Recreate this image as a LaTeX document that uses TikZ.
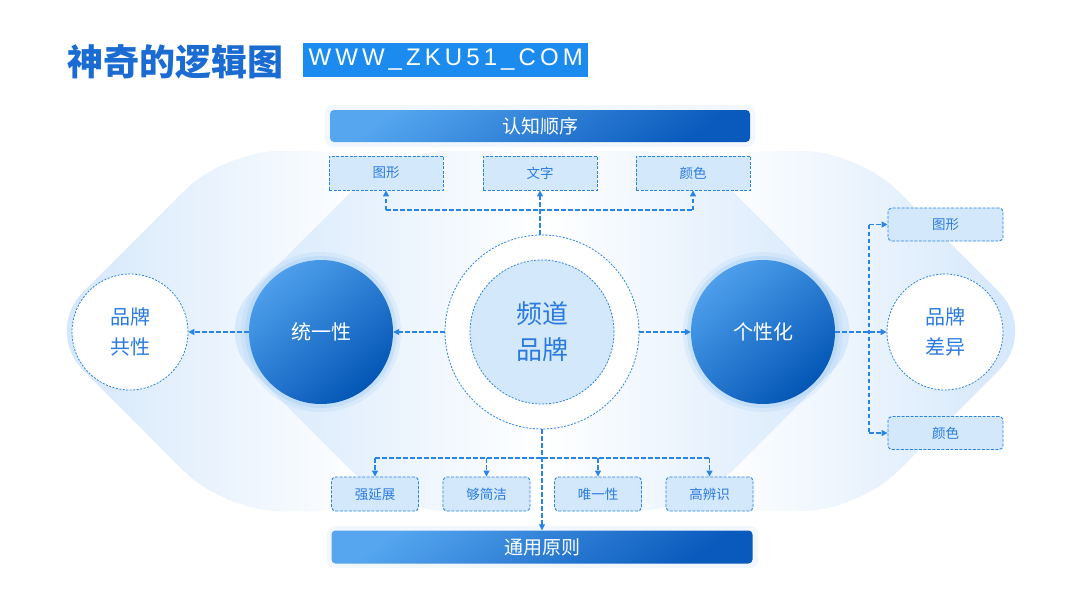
\documentclass[tikz,border=0pt]{standalone}
\usepackage{fontspec}
\setmainfont{Noto Sans CJK SC}
\newfontfamily\latinsans{Liberation Sans}[LetterSpace=17]
\usetikzlibrary{arrows.meta,calc}
\definecolor{lineblue}{HTML}{2A84E6}
\definecolor{boxfill}{HTML}{D4E8FC}
\definecolor{boxtext}{HTML}{2A7BE0}
\definecolor{barlight}{HTML}{55A6EF}
\definecolor{bardark}{HTML}{0A5ABD}
\definecolor{circlight}{HTML}{4D9FEC}
\definecolor{circdark}{HTML}{0456B6}
\definecolor{bgblue}{HTML}{D2E6FB}
\definecolor{glowblue}{HTML}{8CC2F5}
\definecolor{titleblue}{HTML}{1A6CD2}
\definecolor{wwwblue}{HTML}{1B8BF0}
\tikzset{
  conn/.style={draw=lineblue, line width=1.2pt, dash pattern=on 4.5pt off 2.5pt},
  arr/.style={conn, -{Triangle[length=6pt,width=6pt]}},
  bar/.style={rounded corners=4pt, minimum width=420pt, minimum height=32pt,
    top color=barlight, bottom color=bardark, shading angle=35, text=white,
    font=\fontsize{19}{19}\selectfont, inner sep=0pt},
  sbox/.style={fill=boxfill, draw=lineblue, line width=0.9pt, dash pattern=on 3pt off 1.5pt,
    text=boxtext, font=\fontsize{13.5}{14}\selectfont, inner sep=0pt, minimum height=34pt},
  rbox/.style={sbox, rounded corners=4pt},
  bigcirc/.style={circle, minimum size=144pt, inner sep=0pt, top color=circlight,
    bottom color=circdark, shading angle=40, text=white, font=\fontsize{20}{20}\selectfont},
  wcirc/.style={circle, minimum size=116pt, inner sep=0pt, fill=white, draw=lineblue,
    line width=0.8pt, dash pattern=on 2pt off 1.5pt, text=boxtext,
    font=\fontsize{20}{30}\selectfont, align=center},
  bgshape/.style={rounded corners=55pt},
}
\begin{document}
\begin{tikzpicture}[x=1pt,y=-1pt]
\useasboundingbox (0,0) rectangle (1080,608);
\fill[white] (0,0) rectangle (1080,608);
% background hexagons
\shade[bgshape, left color=bgblue, right color=white]
  (44,331) -- (224,151) -- (370,151) -- (370,511) -- (224,511) -- cycle;
\shade[bgshape, left color=white, right color=bgblue]
  (1038,331) -- (858,151) -- (712,151) -- (712,511) -- (858,511) -- cycle;
\shade[bgshape, left color=bgblue, right color=bgblue, middle color=white]
  (212,331) -- (392,151) -- (692,151) -- (872,331) -- (692,511) -- (392,511) -- cycle;
% glows
\foreach \cx in {321,763}{
  \fill[glowblue, opacity=0.15] (\cx,332) circle (80pt);
  \fill[glowblue, opacity=0.25] (\cx,332) circle (76pt);
}
\fill[glowblue, opacity=0.12, rounded corners=8pt] (325,105) rectangle (755,147);
\fill[glowblue, opacity=0.12, rounded corners=8pt] (327,526) rectangle (758,568);
% title
\node[anchor=west, text=titleblue, font=\fontsize{36}{36}\selectfont\bfseries, inner sep=0pt] (title) at (67,62) {神奇的逻辑图};
\node[anchor=west, fill=wwwblue, minimum width=285pt, minimum height=34pt, inner sep=0pt,
  text=white, font=\latinsans\fontsize{24}{24}\selectfont] (www) at (303,60) {WWW\_ZKU51\_COM};
% bars
\node[bar] (top) at (540,126) {认知顺序};
\node[bar, minimum width=421pt, minimum height=33pt] (bot) at (542,547) {通用原则};
% top boxes
\node[sbox, minimum width=114pt] (t1) at (386,173) {图形};
\node[sbox, minimum width=114pt] (t2) at (540,173) {文字};
\node[sbox, minimum width=114pt] (t3) at (693,173) {颜色};
% bottom boxes
\node[rbox, minimum width=87pt] (b1) at (375,494) {强延展};
\node[rbox, minimum width=87pt] (b2) at (486.5,494) {够简洁};
\node[rbox, minimum width=87pt] (b3) at (598,494) {唯一性};
\node[rbox, minimum width=87pt] (b4) at (709.5,494) {高辨识};
% right boxes
\node[rbox, minimum width=115pt, minimum height=33pt] (r1) at (945.5,224.5) {图形};
\node[rbox, minimum width=115pt, minimum height=33pt] (r2) at (945.5,433) {颜色};
% center circle
\node[circle, minimum size=194pt, inner sep=0pt, fill=white, draw=lineblue, line width=0.8pt,
  dash pattern=on 2pt off 1.5pt] (co) at (542,332) {};
\node[circle, minimum size=144pt, inner sep=0pt, fill=boxfill, draw=lineblue, line width=0.8pt,
  dash pattern=on 2pt off 1.5pt, text=boxtext, align=center,
  font=\fontsize{26}{36}\selectfont] (ci) at (542,332) {频道\\品牌};
% blue circles
\node[bigcirc] (lc) at (321,332) {统一性};
\node[bigcirc] (rc) at (763,332) {个性化};
% white circles
\node[wcirc] (lw) at (130,332) {品牌\\共性};
\node[wcirc] (rw) at (945,332) {品牌\\差异};
% connectors top
\coordinate (hT) at (0,210);
\draw[conn] (t1.south |- hT) -- (t3.south |- hT);
\draw[arr] (t1.south |- hT) -- (t1.south);
\draw[arr] (t3.south |- hT) -- (t3.south);
\draw[arr] (co.north -| t2.south) -- (t2.south);
% connectors bottom
\coordinate (hB) at (0,458);
\draw[conn] (b1.north |- hB) -- (b4.north |- hB);
\foreach \b in {b1,b2,b3,b4}{\draw[arr] (\b.north |- hB) -- (\b.north);}
\draw[arr] (co.south) -- (bot.north);
% left/right
\draw[arr] (co.west) -- (lc.east);
\draw[arr] (lc.west) -- (lw.east);
\draw[arr] (co.east) -- (rc.west);
\draw[arr] (rc.east) -- (rw.west);
\coordinate (vR) at (869,0);
\draw[conn] (r1.west -| vR) -- (r2.west -| vR);
\draw[arr] (r1.west -| vR) -- (r1.west);
\draw[arr] (r2.west -| vR) -- (r2.west);
\end{tikzpicture}
\end{document}
